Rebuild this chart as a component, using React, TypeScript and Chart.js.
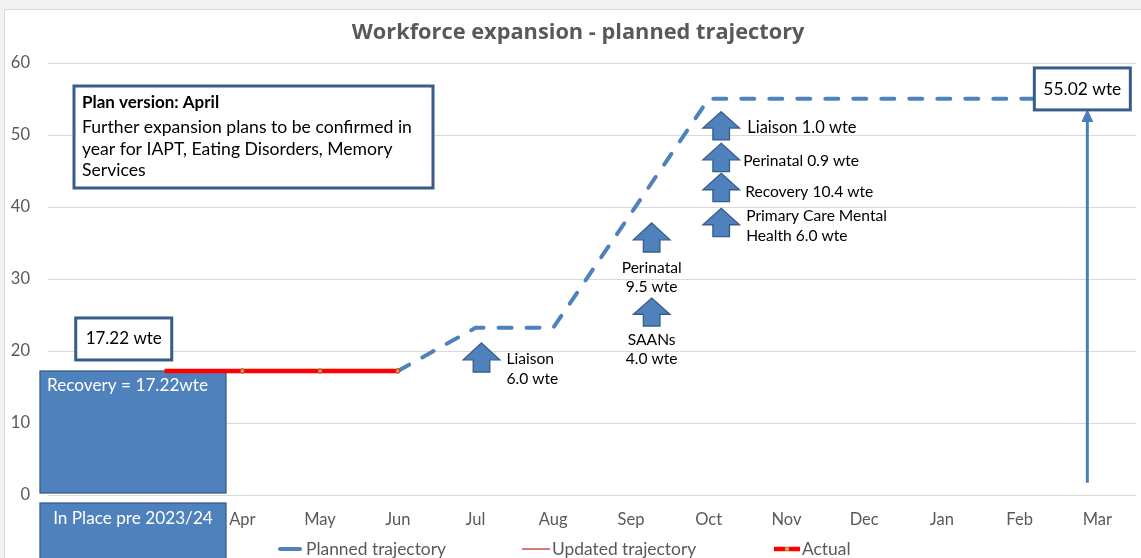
import React, { useEffect, useRef } from "react";
import { Chart, registerables } from "chart.js";

Chart.register(...registerables);

const categories = ["", "", "Apr", "May", "Jun", "Jul", "Aug", "Sep", "Oct", "Nov", "Dec", "Jan", "Feb", "Mar"];
const plannedTrajectory = [null, null, null, null, 17.22, 23.22, 23.22, 39.1, 55.02, 55.02, 55.02, 55.02, 55.02, 55.02];
const updatedTrajectory = [null, 17.22, 17.22, 17.22, 17.22, null, null, null, null, null, null, null, null, null];
const actualValues = [null, 17.22, 17.22, 17.22, 17.22, null, null, null, null, null, null, null, null, null];
const yTicks = [0, 10, 20, 30, 40, 50, 60];

const TITLE = "Workforce expansion - planned trajectory";
const FONT = "Lato, 'Open Sans', sans-serif";
const TITLE_FONT = "'Open Sans', Lato, sans-serif";
const BLUE = "#4F81BD";
const BLUE_EDGE = "#385D8A";
const GREY_TEXT = "#595959";

function upArrow(ctx: CanvasRenderingContext2D, cx: number, top: number, bottom: number) {
  const h = bottom - top;
  const headH = h * 0.58;
  const hw = 18.3;
  const sw = 8.3;
  ctx.beginPath();
  ctx.moveTo(cx, top);
  ctx.lineTo(cx + hw, top + headH);
  ctx.lineTo(cx + sw, top + headH);
  ctx.lineTo(cx + sw, bottom);
  ctx.lineTo(cx - sw, bottom);
  ctx.lineTo(cx - sw, top + headH);
  ctx.lineTo(cx - hw, top + headH);
  ctx.closePath();
  ctx.fillStyle = BLUE;
  ctx.fill();
  ctx.lineWidth = 1.3;
  ctx.strokeStyle = BLUE_EDGE;
  ctx.stroke();
}

function text(ctx: CanvasRenderingContext2D, s: string, x: number, y: number, align: CanvasTextAlign = "left", color = "#000", font = `15.6px ${FONT}`) {
  ctx.font = font;
  ctx.fillStyle = color;
  ctx.textAlign = align;
  ctx.textBaseline = "middle";
  ctx.fillText(s, x, y);
}

function box(ctx: CanvasRenderingContext2D, l: number, t: number, r: number, b: number, fill: string, stroke: string, lw: number) {
  ctx.fillStyle = fill;
  ctx.fillRect(l, t, r - l, b - t);
  ctx.lineWidth = lw;
  ctx.strokeStyle = stroke;
  ctx.strokeRect(l, t, r - l, b - t);
}

const framePlugin = {
  id: "frame",
  beforeDraw(chart: any) {
    const ctx = chart.ctx as CanvasRenderingContext2D;
    const ca = chart.chartArea;
    ctx.save();
    ctx.fillStyle = "#F2F2F2";
    ctx.fillRect(0, 0, chart.width, chart.height);
    ctx.fillStyle = "#FFFFFF";
    ctx.fillRect(4.5, 9.5, chart.width + 20, chart.height + 20);
    ctx.strokeStyle = "#D9D9D9";
    ctx.lineWidth = 1;
    ctx.strokeRect(4.5, 9.5, chart.width + 20, chart.height + 20);
    // title sized to span the same width as the original heading
    ctx.font = `bold 20px ${TITLE_FONT}`;
    const w = ctx.measureText(TITLE).width;
    const size = Math.min(24, 20 * 453 / w);
    text(ctx, TITLE, (ca.left + ca.right) / 2 - 14, 33, "center", GREY_TEXT, `bold ${size}px ${TITLE_FONT}`);
    ctx.restore();
  },
  beforeDatasetsDraw(chart: any) {
    const ctx = chart.ctx as CanvasRenderingContext2D;
    const xs = chart.scales.x;
    const ys = chart.scales.y;
    const ca = chart.chartArea;
    const X = (i: number) => xs.getPixelForValue(i);
    const Y = (v: number) => ys.getPixelForValue(v);
    const cw = X(1) - X(0);
    ctx.save();
    const bl = ca.left - 8;
    const br = X(1) + 0.79 * cw;
    box(ctx, bl, Y(actualValues[1] as number), br, Y(0) - 2, BLUE, BLUE_EDGE, 1.3);
    text(ctx, "Recovery = 17.22wte", bl + 7, Y(actualValues[1] as number) + 14, "left", "#FFFFFF", `17.2px ${FONT}`);
    box(ctx, bl, Y(0) + 8, br, chart.height + 20, BLUE, BLUE_EDGE, 1.3);
    text(ctx, "In Place pre 2023/24", (bl + br) / 2, Y(0) + 23, "center", "#FFFFFF", `17.2px ${FONT}`);
    ctx.restore();
  },
  afterDatasetsDraw(chart: any) {
    const ctx = chart.ctx as CanvasRenderingContext2D;
    const xs = chart.scales.x;
    const ys = chart.scales.y;
    const ca = chart.chartArea;
    const X = (i: number) => xs.getPixelForValue(i);
    const Y = (v: number) => ys.getPixelForValue(v);
    ctx.save();

    const c1 = (X(0) + X(1)) / 2 - 2;
    box(ctx, c1 - 48, Y(21.67) - 21, c1 + 48, Y(21.67) + 21, "#FFFFFF", BLUE_EDGE, 3);
    text(ctx, "17.22 wte", c1, Y(21.67), "center", "#000", `17px ${FONT}`);

    box(ctx, ca.left + 26, ca.top + 23, ca.left + 385, ca.top + 125, "#FFFFFF", BLUE_EDGE, 3);
    const px = ca.left + 34;
    text(ctx, "Plan version: April", px, ca.top + 40, "left", "#000", `bold 17px ${FONT}`);
    text(ctx, "Further expansion plans to be confirmed in", px, ca.top + 64, "left", "#000", `17.6px ${FONT}`);
    text(ctx, "year for IAPT, Eating Disorders, Memory", px, ca.top + 86, "left", "#000", `17.6px ${FONT}`);
    text(ctx, "Services", px, ca.top + 107, "left", "#000", `17.6px ${FONT}`);

    upArrow(ctx, X(5) + 6, Y(21.11), Y(17.08));
    text(ctx, "Liaison", X(5) + 31, Y(18.9));
    text(ctx, "6.0 wte", X(5) + 31, Y(16.1));

    const sx = X(7) + 20.7;
    upArrow(ctx, sx, Y(27.36), Y(23.47));
    text(ctx, "SAANs", sx, Y(21.5), "center");
    text(ctx, "4.0 wte", sx, Y(18.9), "center");
    upArrow(ctx, sx, Y(37.78), Y(33.75));
    text(ctx, "Perinatal", sx, Y(31.5), "center");
    text(ctx, "9.5 wte", sx, Y(28.9), "center");

    const ox = X(8) + 12.5;
    upArrow(ctx, ox, Y(53.24), Y(49.31));
    upArrow(ctx, ox, Y(48.85), Y(44.9));
    upArrow(ctx, ox, Y(44.68), Y(40.74));
    upArrow(ctx, ox, Y(39.82), Y(35.88));
    text(ctx, "Liaison 1.0 wte", ox + 26, Y(51.0), "left", "#000", `16.5px ${FONT}`);
    text(ctx, "Perinatal 0.9 wte", ox + 22, Y(46.4));
    text(ctx, "Recovery 10.4 wte", ox + 24, Y(42.1));
    text(ctx, "Primary Care Mental", ox + 25, Y(38.75));
    text(ctx, "Health 6.0 wte", ox + 25, Y(35.97));

    const mx = X(13) - 10;
    const tipY = Y(53.6);
    ctx.strokeStyle = "#4A7EBB";
    ctx.lineWidth = 3;
    ctx.beginPath();
    ctx.moveTo(mx, Y(1.7));
    ctx.lineTo(mx, tipY + 10);
    ctx.stroke();
    ctx.fillStyle = "#4A7EBB";
    ctx.beginPath();
    ctx.moveTo(mx, tipY);
    ctx.lineTo(mx + 6, tipY + 13);
    ctx.lineTo(mx - 6, tipY + 13);
    ctx.closePath();
    ctx.fill();
    const bx = X(13) - 15;
    box(ctx, bx - 48, Y(56.4) - 21, bx + 48, Y(56.4) + 21, "#FFFFFF", BLUE_EDGE, 3);
    text(ctx, "55.02 wte", bx, Y(56.4), "center", "#000", `17.4px ${FONT}`);

    // Legend
    const ds = chart.data.datasets;
    const ly = 549;
    const lf = `17.4px ${FONT}`;
    ctx.lineCap = "round";
    ctx.strokeStyle = ds[0].borderColor;
    ctx.lineWidth = ds[0].borderWidth;
    ctx.beginPath();
    ctx.moveTo(280, ly);
    ctx.lineTo(300, ly);
    ctx.stroke();
    text(ctx, ds[0].label, 306, ly, "left", GREY_TEXT, lf);
    ctx.lineCap = "butt";
    ctx.strokeStyle = ds[1].borderColor;
    ctx.lineWidth = ds[1].borderWidth;
    ctx.beginPath();
    ctx.moveTo(522, ly);
    ctx.lineTo(550, ly);
    ctx.stroke();
    text(ctx, ds[1].label, 552, ly, "left", GREY_TEXT, lf);
    ctx.strokeStyle = ds[2].borderColor;
    ctx.lineWidth = ds[2].borderWidth;
    ctx.beginPath();
    ctx.moveTo(774, ly);
    ctx.lineTo(800, ly);
    ctx.stroke();
    ctx.beginPath();
    ctx.arc(787, ly, 2.2, 0, Math.PI * 2);
    ctx.fillStyle = ds[2].pointBackgroundColor;
    ctx.fill();
    text(ctx, ds[2].label, 802, ly, "left", GREY_TEXT, lf);
    ctx.restore();
  },
};

export default function App() {
  const ref = useRef<HTMLCanvasElement | null>(null);
  useEffect(() => {
    document.body.style.margin = "0";
    const canvas = ref.current;
    if (!canvas) return;
    const chart = new Chart(canvas, {
      type: "line",
      data: {
        labels: categories,
        datasets: [
          {
            label: "Planned trajectory",
            data: plannedTrajectory,
            borderColor: BLUE,
            borderWidth: 4,
            borderDash: [13, 15],
            borderCapStyle: "round",
            pointRadius: 0,
            tension: 0,
            order: 2,
          },
          {
            label: "Updated trajectory",
            data: updatedTrajectory,
            borderColor: "#C0504D",
            borderWidth: 1.5,
            pointRadius: 0,
            order: 1,
          },
          {
            label: "Actual",
            data: actualValues,
            borderColor: "#FF0000",
            borderWidth: 4.5,
            pointRadius: (c: any) => (c.dataIndex < 2 ? 0 : 2.3),
            pointBackgroundColor: "#9BBB59",
            pointBorderColor: "#FF0000",
            pointBorderWidth: 0.8,
            order: 0,
          },
        ],
      } as any,
      options: {
        animation: false,
        responsive: false,
        layout: { padding: { top: 63, right: 4, left: 0, bottom: 0 } },
        plugins: {
          legend: { display: false },
          title: { display: false },
          tooltip: { enabled: false },
        },
        scales: {
          x: {
            type: "category",
            offset: true,
            grid: { display: false },
            border: { display: false },
            ticks: { color: GREY_TEXT, font: { family: FONT, size: 16.5 }, padding: 7, maxRotation: 0, autoSkip: false },
            afterFit: (s: any) => {
              s.height = 63;
            },
          },
          y: {
            min: 0,
            max: 60,
            afterBuildTicks: (s: any) => {
              s.ticks = yTicks.map((v) => ({ value: v }));
            },
            grid: { color: "#D9D9D9", lineWidth: 1, drawTicks: false },
            border: { display: false },
            ticks: { color: GREY_TEXT, font: { family: FONT, size: 16.5 }, padding: 18 },
            afterFit: (s: any) => {
              s.width = 48;
            },
          },
        },
      } as any,
      plugins: [framePlugin],
    });
    return () => chart.destroy();
  }, []);
  return (
    <div style={{ position: "fixed", left: 0, top: 0, width: 1141, height: 558 }}>
      <canvas ref={ref} width={1141} height={558} style={{ display: "block" }} />
    </div>
  );
}
